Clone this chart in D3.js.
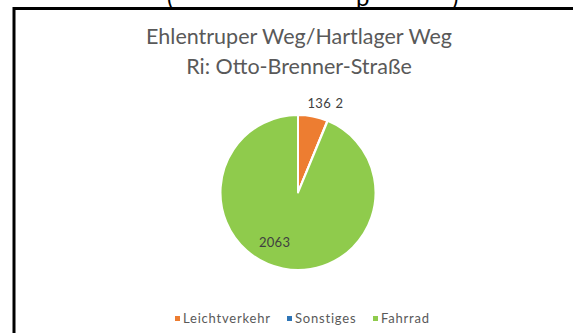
<!DOCTYPE html>
<html>
<head>
<meta charset="utf-8">
<script src="https://cdn.jsdelivr.net/npm/d3@7"></script>
<style>
  html, body { margin: 0; padding: 0; background: #fff; }
  svg { display: block; }
  text { font-family: Lato, "Open Sans", sans-serif; }
</style>
</head>
<body>
<svg id="chart" width="573" height="333"></svg>
<script>
// Counts per vehicle type
const categories = ["Leichtverkehr", "Sonstiges", "Fahrrad"];
const values = [136, 2, 2063];
const colors = ["#ED7D31", "#2E75B6", "#8FCB4C"];
const titleLines = ["Ehlentruper Weg/Hartlager Weg", "Ri: Otto-Brenner-Straße"];

const W = 573, H = 333;
const svg = d3.select("#chart");

// Heading of the sheet, running off the top edge
const head = svg.append("g").attr("fill", "#000").attr("font-size", 24)
  .attr("font-family", "'Liberation Sans', sans-serif");
head.append("text").attr("x", 167).attr("y", 6).text("(");
head.append("text").attr("x", 356).attr("y", 6).text("p");
head.append("text").attr("x", 452).attr("y", 6).text(")");

// Chart frame
svg.append("rect")
  .attr("x", 14).attr("y", 8.5)
  .attr("width", W + 20).attr("height", H + 20)
  .attr("fill", "#fff").attr("stroke", "#000").attr("stroke-width", 3);

// Title
const title = svg.append("g").attr("fill", "#595959").attr("font-size", 21.5)
  .attr("text-anchor", "middle");
titleLines.forEach((t, i) => {
  title.append("text").attr("x", 299).attr("y", 44 + i * 30).text(t);
});

// Pie
const cx = 298, cy = 192.5, r = 77.5;
const pie = d3.pie().sort(null).value(d => d)(values);
const arc = d3.arc().innerRadius(0).outerRadius(r);
const g = svg.append("g").attr("transform", `translate(${cx},${cy})`);
g.selectAll("path").data(pie).join("path")
  .attr("d", arc)
  .attr("fill", (d, i) => colors[i])
  .attr("stroke", "#fff")
  .attr("stroke-width", 2)
  .attr("stroke-linejoin", "round");

// Data labels: small slices outside the rim, large slice inside
const labelG = g.append("g").attr("fill", "#404040").attr("font-size", 13)
  .attr("letter-spacing", 0.3);
const outer = d3.arc().innerRadius(r + 13).outerRadius(r + 13);
const inner = d3.arc().innerRadius(r * 0.62).outerRadius(r * 0.62);
// Leichtverkehr and Sonstiges labels sit side by side above the pie
const smallPos = outer.centroid(pie[0]);
labelG.append("text")
  .attr("x", smallPos[0] - 8).attr("y", smallPos[1] + 4)
  .attr("text-anchor", "start")
  .text(values[0]);
labelG.append("text")
  .attr("x", smallPos[0] + 20).attr("y", smallPos[1] + 4)
  .attr("text-anchor", "start")
  .text(values[1]);
const bigPos = inner.centroid(pie[2]);
labelG.append("text")
  .attr("x", bigPos[0] - 14).attr("y", bigPos[1] + 7)
  .attr("text-anchor", "middle")
  .text(values[2]);

// Legend
const legendX = [175, 287, 373];
const legend = svg.append("g").attr("font-size", 13).attr("fill", "#595959")
  .attr("letter-spacing", 0.8);
categories.forEach((c, i) => {
  legend.append("rect")
    .attr("x", legendX[i]).attr("y", 316)
    .attr("width", 5).attr("height", 5)
    .attr("fill", colors[i]);
  legend.append("text")
    .attr("x", legendX[i] + 8).attr("y", 323)
    .text(c);
});
</script>
</body>
</html>
